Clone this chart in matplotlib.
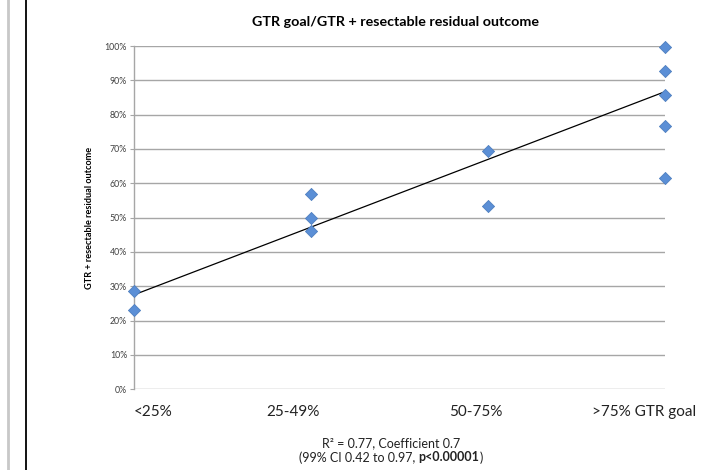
import matplotlib
matplotlib.use('Agg')

import numpy as np
import matplotlib.pyplot as plt
from matplotlib.lines import Line2D

# data
categories = ["<25%", "25-49%", "50-75%", ">75% GTR goal"]
group_x = [1, 1, 2, 2, 2, 3, 3, 4, 4, 4, 4, 4]
outcome_pct = [28.6, 23.0, 57.0, 50.0, 46.2, 69.3, 53.5, 99.8, 92.7, 85.7, 76.8, 61.4]
trend_x = [1, 4]
trend_pct = [27.5, 86.7]
y_ticks = [0, 10, 20, 30, 40, 50, 60, 70, 80, 90, 100]

plt.rcParams['font.family'] = ['Lato', 'DejaVu Sans']

fig = plt.figure(figsize=(7.02, 4.70), dpi=100)
ax = fig.add_axes([0.1909, 0.172, 0.7563, 0.730])

# horizontal gridlines
for t in y_ticks:
    ax.axhline(t, color='#a6a6a6', lw=1.0, zorder=1)

ax.plot(trend_x, trend_pct, color='black', lw=0.9, zorder=2)
ax.scatter(group_x, outcome_pct, marker='D', s=38, color='#5b8fd6',
           edgecolor='#4f7fc0', linewidth=0.6, zorder=3, clip_on=False)

ax.set_xlim(1, 4)
ax.set_ylim(0, 100)
ax.set_yticks(y_ticks)
ax.set_yticklabels([f"{t}%" for t in y_ticks], fontsize=6.3, color='#404040')
ax.tick_params(axis='y', length=3, width=0.8, color='#a6a6a6', pad=2)
ax.set_xticks([])
for s in ['top', 'right', 'bottom']:
    ax.spines[s].set_visible(False)
ax.spines['left'].set_color('#a6a6a6')
ax.spines['left'].set_linewidth(1.0)

ax.set_ylabel("GTR + resectable residual outcome", fontsize=6.6,
              fontweight='bold', labelpad=8)

# category labels (placed like the free text boxes of the original)
label_pos = [1.107, 1.90, 2.93, 3.88]
for pos, lab in zip(label_pos, categories):
    ax.text(pos, -6.8, lab, ha='center', va='center', fontsize=11,
            color='#222222')

fig.text(0.563, 0.953, "GTR goal/GTR + resectable residual outcome",
         ha='center', va='center', fontsize=10.3, fontweight='bold')

fig.text(0.557, 0.058, "R² = 0.77, Coefficient 0.7", ha='center',
         va='center', fontsize=9, color='#222222')

# second line with a bold p-value, centred as a whole
parts = [("(99% CI 0.42 to 0.97, ", 'normal'), ("p<0.00001", 'bold'), (")", 'normal')]
texts = [fig.text(0, 0.027, s, ha='left', va='center', fontsize=9,
                  fontweight=w, color='#222222') for s, w in parts]
fig.canvas.draw()
widths = [t.get_window_extent().width / fig.bbox.width for t in texts]
x = 0.557 - sum(widths) / 2
for t, w in zip(texts, widths):
    t.set_x(x)
    x += w

# page border lines on the left
fig.add_artist(Line2D([8 / 702, 8 / 702], [0, 1], color='#c8c8c8', lw=2.0))
fig.add_artist(Line2D([26 / 702, 26 / 702], [0, 1], color='black', lw=1.3))

fig.savefig("out.png", dpi=100)
